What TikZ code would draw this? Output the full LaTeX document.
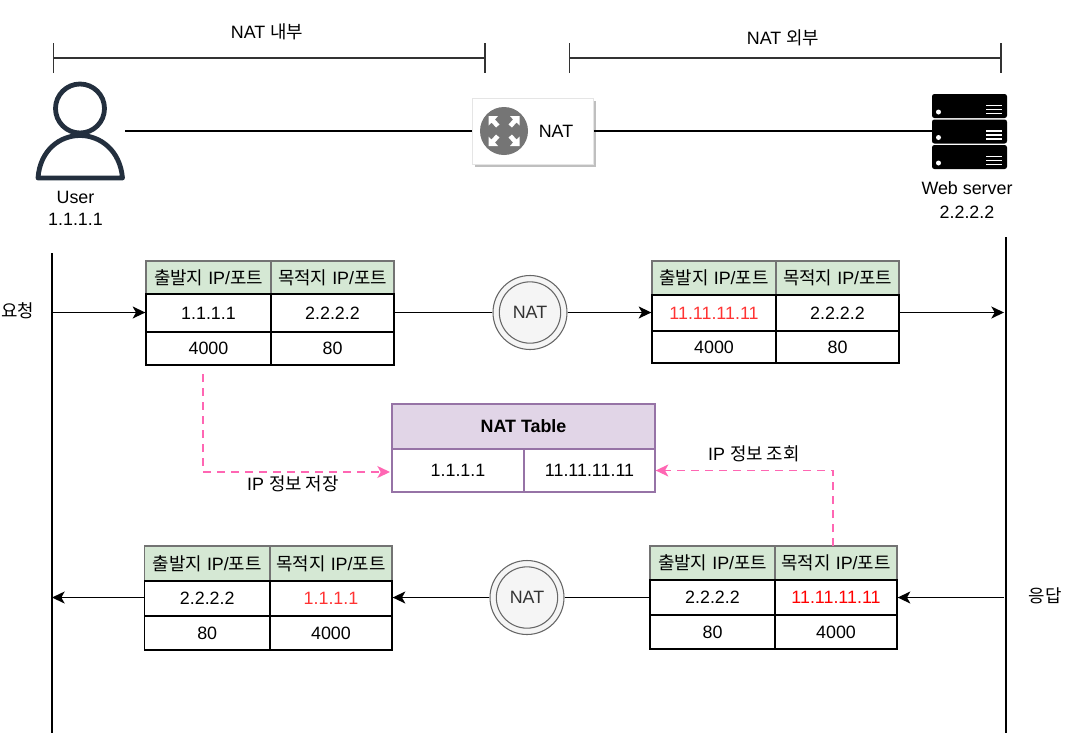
\documentclass[tikz,border=0pt]{standalone}
\usepackage{fontspec}
\setmainfont{Liberation Sans}
\newfontfamily\kr{Noto Sans CJK KR}
\usetikzlibrary{arrows.meta,shadows}
\definecolor{hdrgreen}{HTML}{D5E8D4}
\definecolor{hdrpurple}{HTML}{E1D5E7}
\definecolor{edgepurple}{HTML}{9673A6}
\definecolor{pinkline}{HTML}{FF66B3}
\definecolor{softred}{HTML}{FF3333}
\definecolor{usercol}{HTML}{232F3E}
\tikzset{
  x=0.75pt,y=-0.75pt,
  txt/.style={font=\fontsize{13.4pt}{15pt}\selectfont,inner sep=0pt,align=center},
  cellbase/.style={draw=black,line width=1pt,inner sep=0pt,txt,anchor=center},
  hdrcell/.style={cellbase,fill=hdrgreen,draw=black!55},
  ttlcell/.style={cellbase,fill=hdrpurple,draw=edgepurple,font=\fontsize{13.4pt}{15pt}\selectfont\bfseries},
  pcell/.style={cellbase,draw=edgepurple},
  link/.style={draw=black,line width=1pt},
  arrowlink/.style={link,-{Stealth[length=9.5pt,width=9pt,inset=2.5pt]}},
  pinklink/.style={draw=pinkline,line width=1pt,dash pattern=on 6pt off 4.5pt,-{Stealth[length=9.5pt,width=9pt,inset=2.5pt]}},
  bracket/.style={draw=black!80,line width=1.2pt},
  natcirc/.style={circle,draw=black!60,fill=black!4,line width=0.8pt,minimum size=55.5pt,inner sep=0pt},
  natin/.style={circle,draw=black!60,line width=0.8pt,minimum size=46pt,inner sep=0pt,txt,text=black!80},
  srv/.style={fill=black,rounded corners=1.8pt,draw=none},
}
\newcommand\cellnode[7]{\node[#1,minimum width={(#5-#3)*0.75pt},minimum height={(#6-#4)*0.75pt}] (#2) at ({(#3+#5)/2},{(#4+#6)/2}) {#7};}
\newcommand\hdrA{{\kr 출발지} IP/{\kr 포트}}
\newcommand\hdrB{{\kr 목적지} IP/{\kr 포트}}
\begin{document}
\begin{tikzpicture}
\useasboundingbox (0,0) rectangle (1074,751);
% top brackets
\coordinate (bl1) at (52.5,58); \coordinate (bl2) at (485.5,58);
\coordinate (br1) at (568.5,58); \coordinate (br2) at (1001.5,58);
\draw[bracket,{Bar[width=22.5pt,length=0pt]}-{Bar[width=22.5pt,length=0pt]}] (bl1) -- (bl2);
\draw[bracket,{Bar[width=22.5pt,length=0pt]}-{Bar[width=22.5pt,length=0pt]}] (br1) -- (br2);
\node[txt] (lblin) at (267,32) {NAT {\kr 내부}};
\node[txt] (lblout) at (783,38) {NAT {\kr 외부}};
% user icon
\node[minimum width=67.5pt,minimum height=75pt,inner sep=0pt] (user) at (80,131) {};
\draw[usercol,line width=3.6pt] (80,108.5) circle[radius=24.5];
\draw[usercol,line width=3.6pt,line join=round] (38,178) .. controls (40,150) and (60,135.5) .. (80,135.5) .. controls (100,135.5) and (120,150) .. (122.5,178) -- cycle;
\node[txt] (userlbl) at (75.5,208) {User\\[1.5pt]1.1.1.1};
% router
\node[draw=black!10,fill=white,line width=0.6pt,minimum width=90.75pt,minimum height=49.5pt,inner sep=0pt,
  drop shadow={shadow xshift=2pt,shadow yshift=-2pt,fill=black!50,opacity=.5}] (router) at (533,131) {};
\node[circle,fill=black!54,minimum size=36pt,inner sep=0pt] (routericon) at (504,131) {};
\foreach \sx/\sy in {-1/-1,1/-1,-1/1,1/1}{
  \fill[white] (504+\sx*15.5,131+\sy*15) -- (504+\sx*15.5,131+\sy*5.5) -- (504+\sx*12.5,131+\sy*8.5) -- (504+\sx*8,131+\sy*3.5) -- (504+\sx*4.5,131+\sy*6.5) -- (504+\sx*9,131+\sy*11.5) -- (504+\sx*6,131+\sy*15) -- cycle;
}
\node[txt,anchor=center] (routerlbl) at (556,131) {NAT};
% server
\node[srv,minimum width=56.25pt,minimum height=18pt,inner sep=0pt] (srv1) at (969.5,106) {};
\node[srv,minimum width=56.25pt,minimum height=18pt,inner sep=0pt] (srv2) at (969.5,131.5) {};
\node[srv,minimum width=56.25pt,minimum height=18pt,inner sep=0pt] (srv3) at (969.5,157) {};
\foreach \yy in {112,137.5,163}{
  \fill[white] (938.5,\yy) circle[radius=2.5];
  \foreach \dd in {-6.5,-2.5,1.5}{\fill[white] (986,\yy+\dd-0.7) rectangle (1002,\yy+\dd+0.7);}
}
\node[txt] (srvlbl) at (967,200) {Web server\\[2.5pt]2.2.2.2};
\draw[link] (user.east) -- (router.west);
\draw[link] (router.east) -- (srv2.west |- router.east);
% lifelines
\coordinate (la) at (52,253); \coordinate (lb) at (52,733);
\coordinate (ra) at (1006,237); \coordinate (rb) at (1006,733);
\draw[link] (la) -- (lb);
\draw[link] (ra) -- (rb);
\node[txt] (req) at (17.5,311) {\kr 요청};
\node[txt] (res) at (1045,596) {\kr 응답};
% table 1
\cellnode{hdrcell}{aH}{146}{261}{271}{294}{\hdrA}
\cellnode{hdrcell}{aI}{271}{261}{394}{294}{\hdrB}
\cellnode{cellbase}{aA}{146}{294}{271}{332}{1.1.1.1}
\cellnode{cellbase}{aB}{271}{294}{394}{332}{2.2.2.2}
\cellnode{cellbase}{aC}{146}{332}{271}{365}{4000}
\cellnode{cellbase}{aD}{271}{332}{394}{365}{80}
% table 2
\cellnode{hdrcell}{bH}{652}{261}{776}{295}{\hdrA}
\cellnode{hdrcell}{bI}{776}{261}{899}{295}{\hdrB}
\cellnode{cellbase}{bA}{652}{295}{776}{331}{\textcolor{softred}{11.11.11.11}}
\cellnode{cellbase}{bB}{776}{295}{899}{331}{2.2.2.2}
\cellnode{cellbase}{bC}{652}{331}{776}{363}{4000}
\cellnode{cellbase}{bD}{776}{331}{899}{363}{80}
% table 3
\cellnode{hdrcell}{cH}{650}{546}{775}{580}{\hdrA}
\cellnode{hdrcell}{cI}{775}{546}{897}{580}{\hdrB}
\cellnode{cellbase}{cA}{650}{580}{775}{615}{2.2.2.2}
\cellnode{cellbase}{cB}{775}{580}{897}{615}{\textcolor{red}{11.11.11.11}}
\cellnode{cellbase}{cC}{650}{615}{775}{649}{80}
\cellnode{cellbase}{cD}{775}{615}{897}{649}{4000}
% table 4
\cellnode{hdrcell}{dH}{144.5}{546}{270}{581}{\hdrA}
\cellnode{hdrcell}{dI}{270}{546}{392}{581}{\hdrB}
\cellnode{cellbase}{dA}{144.5}{581}{270}{616}{2.2.2.2}
\cellnode{cellbase}{dB}{270}{581}{392}{616}{\textcolor{softred}{1.1.1.1}}
\cellnode{cellbase}{dC}{144.5}{616}{270}{650}{80}
\cellnode{cellbase}{dD}{270}{616}{392}{650}{4000}
% NAT table
\cellnode{ttlcell}{nH}{392}{404}{655}{449}{NAT Table}
\cellnode{pcell}{nA}{392}{449}{524}{492}{1.1.1.1}
\cellnode{pcell}{nB}{524}{449}{655}{492}{11.11.11.11}
% NAT circles
\node[natcirc] (n1) at (530,312.5) {};
\node[natin] (n1i) at (530,312.5) {NAT};
\node[natcirc] (n2) at (527,597.5) {};
\node[natin] (n2i) at (527,597.5) {NAT};
% connectors
\coordinate (reqs) at (52,312.5); \coordinate (reqe) at (1004,312.5);
\coordinate (ress) at (1004,597.5); \coordinate (rese) at (52,597.5);
\draw[arrowlink] (reqs) -- (aA.west |- reqs);
\draw[link] (aB.east |- reqs) -- (n1.west);
\draw[arrowlink] (n1.east) -- (bA.west |- reqs);
\draw[arrowlink] (bB.east |- reqs) -- (reqe);
\draw[arrowlink] (ress) -- (cB.east |- ress);
\draw[link] (cA.west |- ress) -- (n2.east);
\draw[arrowlink] (n2.west) -- (dB.east |- ress);
\draw[arrowlink] (dA.west |- ress) -- (rese);
% dashed
\coordinate (p1) at (203,374); \coordinate (p1e) at (390,472);
\draw[pinklink] (p1) |- (p1e);
\coordinate (p2) at (833,546);
\draw[pinklink] (p2) |- (nB.east);
\node[txt] (lbl1) at (293,484) {IP {\kr 정보 저장}};
\node[txt] (lbl2) at (754,454) {IP {\kr 정보 조회}};
\end{tikzpicture}
\end{document}
